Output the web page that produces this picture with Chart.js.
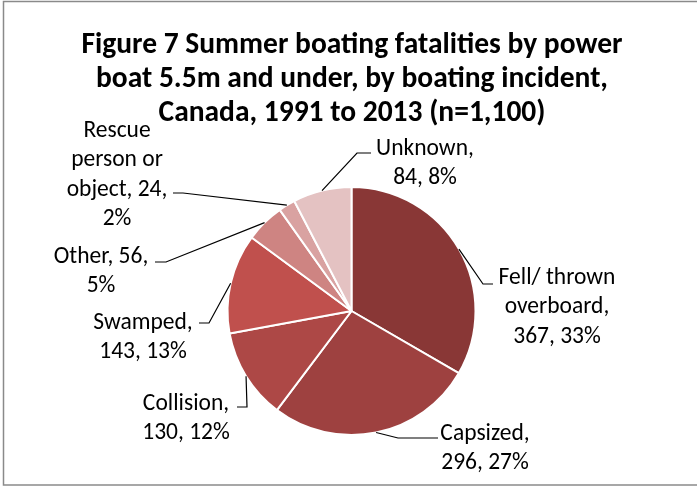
<!DOCTYPE html>
<html>
<head>
<meta charset="utf-8">
<script src="https://cdn.jsdelivr.net/npm/chart.js@4/dist/chart.umd.min.js"></script>
<style>
  html, body { margin: 0; padding: 0; background: #fff; }
  #wrap { width: 697px; height: 487px; }
</style>
</head>
<body>
<div id="wrap"><canvas id="chart" width="697" height="487"></canvas></div>
<script>
const titleLines = [
    'Figure 7 Summer boating fatalities by power',
    'boat 5.5m and under, by boating incident,',
    'Canada, 1991 to 2013 (n=1,100)'
];
const categories = ['Fell/ thrown overboard', 'Capsized', 'Collision', 'Swamped', 'Other', 'Rescue person or object', 'Unknown'];
const counts = [367, 296, 130, 143, 56, 24, 84];
const colors = ['#893736', '#9e4140', '#ad4846', '#c0504d', '#ce8482', '#d9a2a1', '#e4c2c2'];

// label placement: text centre x, first line middle y, wrap width, elbow and end of leader
const labelPos = [
    { x: 557, y: 278, w: 132, elbow: [483, 284], end: [493, 284] },
    { x: 485, y: 434, w: 100, elbow: [398, 438], end: [438, 438] },
    { x: 186, y: 404, w: 104, elbow: [247, 407], end: [237, 407] },
    { x: 143, y: 323, w: 112, elbow: [209, 323], end: [199, 323] },
    { x: 101, y: 257, w: 108, elbow: [166, 262], end: [155, 262] },
    { x: 117, y: 131, w: 110, elbow: [183, 193], end: [173, 193] },
    { x: 425, y: 149, w: 112, elbow: [357, 153], end: [371, 153] }
];

const FONT = 'Carlito, Lato, "Liberation Sans", sans-serif';
const total = counts.reduce((a, b) => a + b, 0);

function wrap(ctx, text, width) {
    const words = text.split(' ');
    const lines = [];
    let cur = '';
    words.forEach(w => {
        const t = cur ? cur + ' ' + w : w;
        if (cur && ctx.measureText(t).width > width) {
            lines.push(cur);
            cur = w;
        } else {
            cur = t;
        }
    });
    if (cur) lines.push(cur);
    return lines;
}

const decor = {
    id: 'decor',
    afterDraw(chart) {
        const ctx = chart.ctx;
        ctx.save();
        // frame
        ctx.strokeStyle = '#8a8a8a';
        ctx.lineWidth = 1.5;
        ctx.strokeRect(3.5, 1.5, 720, 483.5);

        // title
        ctx.fillStyle = '#000';
        ctx.textAlign = 'center';
        ctx.textBaseline = 'middle';
        ctx.font = 'bold 29.5px ' + FONT;
        titleLines.forEach((t, i) => ctx.fillText(t, 352, 46 + i * 34));

        // labels with leader lines
        const arcs = chart.getDatasetMeta(0).data;
        ctx.font = '23.5px ' + FONT;
        arcs.forEach((arc, i) => {
            const p = arc.getProps(['x', 'y', 'startAngle', 'endAngle', 'outerRadius'], true);
            const mid = (p.startAngle + p.endAngle) / 2;
            const ax = p.x + Math.cos(mid) * p.outerRadius;
            const ay = p.y + Math.sin(mid) * p.outerRadius;
            const L = labelPos[i];
            ctx.strokeStyle = '#000';
            ctx.lineWidth = 1.2;
            ctx.beginPath();
            ctx.moveTo(ax, ay);
            ctx.lineTo(L.elbow[0], L.elbow[1]);
            ctx.lineTo(L.end[0], L.end[1]);
            ctx.stroke();

            const pct = Math.round(counts[i] / total * 100) + '%';
            const text = categories[i] + ', ' + counts[i] + ', ' + pct;
            const lines = wrap(ctx, text, L.w);
            ctx.fillStyle = '#000';
            lines.forEach((ln, k) => ctx.fillText(ln, L.x, L.y + k * 29.5));
        });
        ctx.restore();
    }
};

new Chart(document.getElementById('chart'), {
    type: 'pie',
    data: {
        labels: categories,
        datasets: [{
            data: counts,
            backgroundColor: colors,
            borderColor: '#fff',
            borderWidth: 2
        }]
    },
    options: {
        responsive: false,
        animation: false,
        layout: { padding: { left: 226, right: 220, top: 186, bottom: 51 } },
        plugins: {
            legend: { display: false },
            title: { display: false },
            tooltip: { enabled: false }
        }
    },
    plugins: [decor]
});
</script>
</body>
</html>
